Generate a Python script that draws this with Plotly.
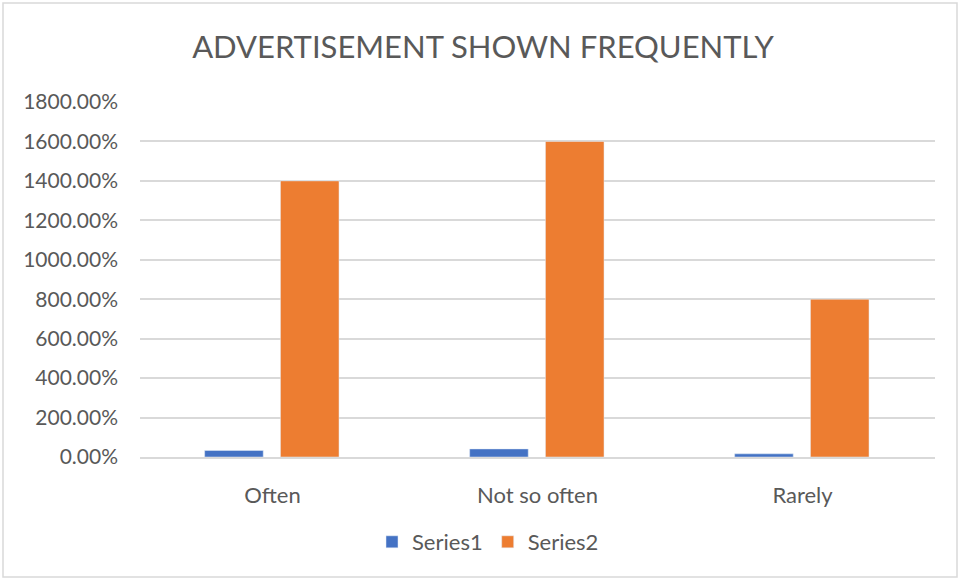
import plotly.graph_objects as go

categories = ["Often", "Not so often", "Rarely"]
series1 = [0.33, 0.41, 0.16]
series2 = [14.0, 16.0, 8.0]
y_ticks = [0, 2, 4, 6, 8, 10, 12, 14, 16, 18]

TEXT = "#595959"
FONT = "Lato, 'Open Sans', sans-serif"

# bar geometry in category units (one category = 1.0)
BAR_W = 0.221
fig = go.Figure()
fig.add_trace(go.Bar(name="Series1", x=categories, y=series1, marker_color="#4472C4",
                     width=BAR_W, offset=-0.256))
fig.add_trace(go.Bar(name="Series2", x=categories, y=series2, marker_color="#ED7D31",
                     width=BAR_W, offset=0.030))

L, R, T, B = 140, 28, 102, 124
W, H = 963, 581
pw, ph = W - L - R, H - T - B

def px_to_paper(x, y):
    return (x - L) / pw, (H - B - y) / ph

x0, y0 = px_to_paper(3, 3)
x1, y1 = px_to_paper(957, 577)

fig.update_layout(
    width=W, height=H,
    margin=dict(l=L, r=R, t=T, b=B),
    paper_bgcolor="white", plot_bgcolor="white",
    barmode="group",
    font=dict(family=FONT, color=TEXT, size=22),
    title=dict(text="ADVERTISEMENT SHOWN FREQUENTLY", x=483 / W, xanchor="center",
               y=1 - 47 / H, yanchor="middle",
               font=dict(size=31, color=TEXT, family=FONT)),
    showlegend=True,
    legend=dict(orientation="h", x=px_to_paper(488, 0)[0], xanchor="center",
                y=px_to_paper(0, 542)[1], yanchor="middle",
                font=dict(size=22, color=TEXT), traceorder="normal"),
    xaxis=dict(showgrid=False, showline=True, linecolor="#d9d9d9", linewidth=1.5,
               ticks="", tickfont=dict(size=22, color=TEXT), ticklabelstandoff=18,
               range=[-0.5, 2.5]),
    yaxis=dict(range=[0, 18], tickvals=y_ticks, tickformat=".2%",
               showgrid=True, gridcolor="#d9d9d9", gridwidth=1.5, zeroline=False,
               showline=False, ticks="", tickfont=dict(size=21, color=TEXT),
               ticklabelstandoff=21),
    shapes=[dict(type="rect", xref="paper", yref="paper", x0=x0, y0=y1, x1=x1, y1=y0,
                 line=dict(color="#d9d9d9", width=1.5), fillcolor="rgba(0,0,0,0)",
                 layer="below")],
)

fig.write_html("out.html")
